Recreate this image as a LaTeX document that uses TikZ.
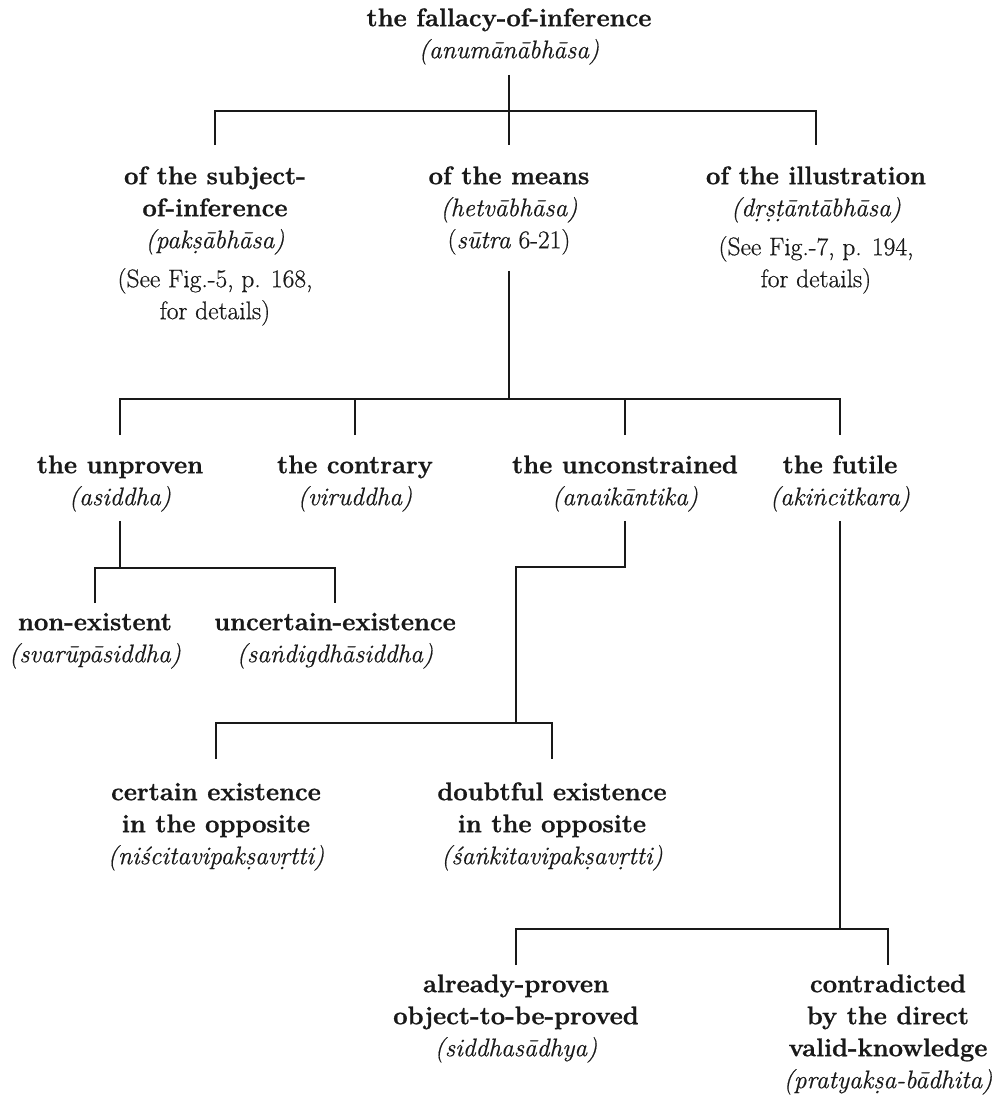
\documentclass[tikz,border=0pt]{standalone}
\usepackage{fontspec}
% a slightly heavier Latin Modern throughout
\setmainfont{Latin Modern Roman}[
  UprightFeatures={FakeBold=0.6},
  ItalicFeatures={FakeBold=0.5},
  BoldFeatures={FakeBold=1.0},
  BoldItalicFeatures={FakeBold=1.0}]
% fixed height for the first line of every label
\newcommand{\lblstrut}{\rule{0pt}{18pt}}
\begin{document}
\begin{tikzpicture}[x=1pt,y=-1pt,
  lbl/.style={align=center, inner sep=0pt, anchor=north, text=black!90,
              font=\fontsize{25.5}{32}\selectfont},
  conn/.style={line width=1.7pt, draw=black!90}]
\useasboundingbox (0,0) rectangle (1003,1101);

% ---- labels (position = top of the first line) ----
\node[lbl] (root) at (509,8) {\lblstrut\textbf{the fallacy-of-inference}\\\textit{(anumānābhāsa)}};

\node[lbl] (subj) at (215,166) {\lblstrut\textbf{of the subject-}\\\textbf{of-inference}\\\textit{(pakṣābhāsa)}\\[7pt](See Fig.-5, p. 168,\\for details)};
\node[lbl] (means) at (509,166) {\lblstrut\textbf{of the means}\\\textit{(hetvābhāsa)}\\(\textit{sūtra} 6-21)};
\node[lbl] (illu) at (816,166) {\lblstrut\textbf{of the illustration}\\\textit{(dṛṣṭāntābhāsa)}\\[7pt](See Fig.-7, p. 194,\\for details)};

\node[lbl] (unpr) at (120,455) {\lblstrut\textbf{the unproven}\\\textit{(asiddha)}};
\node[lbl] (contr) at (355,455) {\lblstrut\textbf{the contrary}\\\textit{(viruddha)}};
\node[lbl] (uncon) at (625,455) {\lblstrut\textbf{the unconstrained}\\\textit{(anaikāntika)}};
\node[lbl] (futile) at (840,455) {\lblstrut\textbf{the futile}\\\textit{(akiṅcitkara)}};

\node[lbl] (nonex) at (95,612) {\lblstrut\textbf{non-existent}\\\textit{(svarūpāsiddha)}};
\node[lbl] (uncert) at (335,612) {\lblstrut\textbf{uncertain-existence}\\\textit{(saṅdigdhāsiddha)}};

\node[lbl] (certain) at (216,782) {\lblstrut\textbf{certain existence}\\\textbf{in the opposite}\\\textit{(niścitavipakṣavṛtti)}};
\node[lbl] (doubt) at (552,782) {\lblstrut\textbf{doubtful existence}\\\textbf{in the opposite}\\\textit{(śaṅkitavipakṣavṛtti)}};

\node[lbl] (already) at (516,974) {\lblstrut\textbf{already-proven}\\\textbf{object-to-be-proved}\\\textit{(siddhasādhya)}};
\node[lbl] (contra) at (888,974) {\lblstrut\textbf{contradicted}\\\textbf{by the direct}\\\textbf{valid-knowledge}\\\textit{(pratyakṣa-bādhita)}};

% ---- branching points ----
\coordinate (b1) at (509,111);
\coordinate (b2) at (509,399);
\coordinate (b3) at (120,568);
\coordinate (e1) at (516,567);
\coordinate (b4) at (516,723);
\coordinate (b5) at (840,929);

% ---- connectors ----
\draw[conn] ([yshift=-10pt]root.south) -- (b1);
\draw[conn] ([yshift=21pt]subj.north) |- (b1) -| ([yshift=21pt]illu.north);
\draw[conn] (b1) -- ([yshift=21pt]means.north);

\draw[conn] ([yshift=-16pt]means.south) -- (b2);
\draw[conn] ([yshift=20pt]unpr.north) |- (b2) -| ([yshift=20pt]futile.north);
\draw[conn] ([yshift=20pt]contr.north) -- (contr.north |- b2);
\draw[conn] ([yshift=20pt]uncon.north) -- (uncon.north |- b2);

\draw[conn] ([yshift=-9pt]unpr.south) -- (b3);
\draw[conn] ([yshift=9pt]nonex.north) |- (b3) -| ([yshift=9pt]uncert.north);

\draw[conn] ([yshift=-9pt]uncon.south) |- (e1) -- (b4);
\draw[conn] ([yshift=23pt]certain.north) |- (b4) -| ([yshift=23pt]doubt.north);

\draw[conn] ([yshift=-9pt]futile.south) -- (b5);
\draw[conn] ([yshift=9pt]already.north) |- (b5) -| ([yshift=9pt]contra.north);
\end{tikzpicture}
\end{document}
